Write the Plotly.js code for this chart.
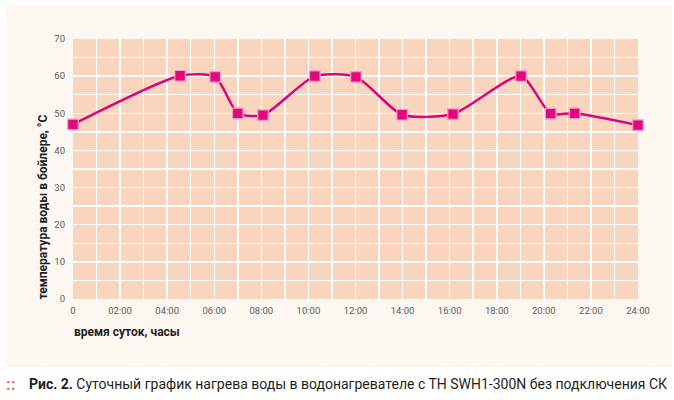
<!DOCTYPE html>
<html><head><meta charset="utf-8">
<script src="https://cdn.plot.ly/plotly-3.0.1.min.js"></script>
<style>
html,body{margin:0;padding:0;background:#fff;}
#wrap{position:relative;width:674px;height:400px;}
#panel{position:absolute;left:5px;top:5px;width:667px;height:362px;background:#fdf7f2;}
#chart{position:absolute;left:0;top:0;width:674px;height:400px;}
</style>
</head><body><div id="wrap"><div id="panel"></div><div id="chart"></div></div>
<script>
// Data
const hours = [0, 4.55, 6.04, 7.0, 8.07, 10.27, 12.02, 13.98, 16.14, 19.03, 20.29, 21.31, 24];
const temps = [47, 60.1, 59.8, 50, 49.5, 60, 59.8, 49.6, 49.8, 60, 49.9, 50, 46.8];
const xTickVals = [0, 2, 4, 6, 8, 10, 12, 14, 16, 18, 20, 22, 24];
const xTickText = ['0', '02:00', '04:00', '06:00', '08:00', '10:00', '12:00', '14:00', '16:00', '18:00', '20:00', '22:00', '24:00'];
const yTickVals = [0, 10, 20, 30, 40, 50, 60, 70];

const W = 674, H = 400, L = 73, R = 36, T = 39, B = 101;
const pw = W - L - R, ph = H - T - B;
const px = v => (v - L) / pw;
const py = v => (H - B - v) / ph;
const fam = 'Roboto, "Liberation Sans", sans-serif';

const trace = {
  x: hours, y: temps, type: 'scatter', mode: 'lines+markers',
  line: {shape: 'spline', smoothing: 0.65, color: '#d8057f', width: 2.5},
  marker: {symbol: 'square', size: 10.5, color: '#e2067f', line: {color: '#f49ac8', width: 1.2}},
  cliponaxis: false, hoverinfo: 'skip'
};

const layout = {
  width: W, height: H,
  margin: {l: L, r: R, t: T, b: B, pad: 0},
  paper_bgcolor: 'rgba(0,0,0,0)', plot_bgcolor: '#f9d5be',
  showlegend: false,
  xaxis: {
    range: [0, 24], tickvals: xTickVals, ticktext: xTickText,
    showgrid: true, gridcolor: '#ffffff', gridwidth: 1.5, zeroline: false,
    showline: false, ticks: '', ticklabelstandoff: 4,
    minor: {dtick: 1, tick0: 0, showgrid: true, gridcolor: '#ffffff', gridwidth: 1.5},
    tickfont: {family: fam, size: 9.5, color: '#5a5a5a'},
    fixedrange: true
  },
  yaxis: {
    range: [0, 70], tickvals: yTickVals,
    showgrid: true, gridcolor: '#ffffff', gridwidth: 1.5, zeroline: false,
    showline: false, ticks: '', ticklabelstandoff: 7,
    minor: {dtick: 5, tick0: 0, showgrid: true, gridcolor: '#ffffff', gridwidth: 1.5},
    tickfont: {family: fam, size: 9.5, color: '#5a5a5a'},
    fixedrange: true
  },
  annotations: [
    {text: '<b>время суток, часы</b>', xref: 'paper', yref: 'paper', x: px(72), y: py(332),
     xanchor: 'left', yanchor: 'middle', showarrow: false,
     font: {family: fam, size: 12, color: '#222'}},
    {text: '<b>температура воды в бойлере, °С</b>', xref: 'paper', yref: 'paper', x: px(42), y: py(302),
     xanchor: 'center', yanchor: 'bottom', textangle: -90, showarrow: false,
     font: {family: fam, size: 12, color: '#222'}},
    {text: '<b>::</b>', xref: 'paper', yref: 'paper', x: px(4), y: py(384),
     xanchor: 'left', yanchor: 'middle', showarrow: false,
     font: {family: fam, size: 17, color: '#e8744c'}},
    {text: '<b>Рис. 2.</b> Суточный график нагрева воды в водонагревателе с ТН SWH1-300N без подключения СК',
     xref: 'paper', yref: 'paper', x: px(27), y: py(384),
     xanchor: 'left', yanchor: 'middle', showarrow: false,
     font: {family: fam, size: 14, color: '#231f20'}}
  ]
};

Plotly.newPlot('chart', [trace], layout, {displayModeBar: false, staticPlot: true});
</script></body></html>
